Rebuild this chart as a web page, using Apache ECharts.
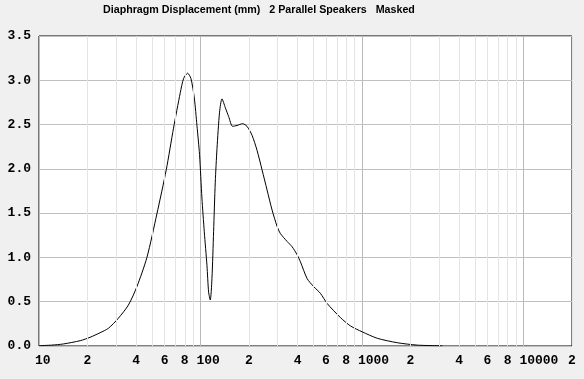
<!DOCTYPE html>
<html>
<head>
<meta charset="utf-8">
<script src="https://cdn.jsdelivr.net/npm/echarts@6/dist/echarts.min.js"></script>
<style>
html,body{margin:0;padding:0;background:#f0f0f0;}
#chart{width:584px;height:379px;}
</style>
</head>
<body>
<div id="chart"></div>
<script>
// Frequency (Hz) and diaphragm displacement (mm)
const freqs = [10, 12, 14.15, 18, 20.7, 23.9, 26.9, 31, 35.8, 40.4, 46.6, 53.7, 61.4, 68.1, 75, 78.6, 83.2, 87.3, 91.6, 95.1, 98.7, 102.1, 105.6, 109.7, 112.3, 115, 117.8, 120.6, 123.5, 126.6, 131.3, 135.9, 142.6, 149.5, 158.2, 168.4, 182.5, 194.2, 208.6, 224, 240.6, 258.6, 277.7, 298.3, 312.6, 344.2, 369.6, 396.8, 416, 458, 503, 553, 609, 737, 850, 1004, 1245, 1656, 2203, 3150];
const displacement = [0.004, 0.01, 0.023, 0.06, 0.098, 0.15, 0.20, 0.313, 0.463, 0.67, 1.00, 1.49, 1.99, 2.46, 2.86, 3.02, 3.08, 3.02, 2.80, 2.49, 2.16, 1.67, 1.29, 0.91, 0.61, 0.52, 0.76, 1.29, 1.85, 2.23, 2.64, 2.79, 2.69, 2.59, 2.48, 2.49, 2.51, 2.48, 2.38, 2.21, 1.99, 1.76, 1.535, 1.35, 1.27, 1.18, 1.12, 1.03, 0.95, 0.76, 0.67, 0.595, 0.48, 0.32, 0.226, 0.16, 0.087, 0.037, 0.01, 0.002];
const xTickValues = [10, 20, 40, 60, 80, 100, 200, 400, 600, 800, 1000, 2000, 4000, 6000, 8000, 10000, 20000];
const xTickLabels = ['10', '2', '4', '6', '8', '100', '2', '4', '6', '8', '1000', '2', '4', '6', '8', '10000', '2'];
const titleText = 'Diaphragm Displacement (mm)   2 Parallel Speakers   Masked';

const minorGrid = [];
[10, 100, 1000].forEach(d => { for (let k = 2; k <= 9; k++) minorGrid.push(d * k); });
minorGrid.push(20000);

const chart = echarts.init(document.getElementById('chart'));
const lblFont = {fontFamily: 'Liberation Mono', fontWeight: 'bold', fontSize: 13, color: '#000'};
chart.setOption({
  animation: false,
  backgroundColor: '#f0f0f0',
  title: {
    text: titleText, left: 103, top: 5, padding: 0,
    textStyle: {fontFamily: 'Liberation Sans', fontWeight: 'bold', fontSize: 10.7, color: '#000'}
  },
  grid: {left: 39, right: 12, top: 36, bottom: 33, show: true, backgroundColor: '#fff', borderColor: '#000', borderWidth: 1},
  xAxis: {
    type: 'log', logBase: 10, min: 10, max: 20000,
    axisLine: {show: false}, axisTick: {show: false},
    splitLine: {show: true, lineStyle: {color: '#b9b9b9', width: 1}},
    axisLabel: Object.assign({
      customValues: xTickValues,
      margin: 8,
      align: 'left',
      padding: [0, 0, 0, -4],
      formatter: function (v) {
        const i = xTickValues.findIndex(t => Math.abs(t - v) / t < 1e-6);
        return i >= 0 ? xTickLabels[i] : '';
      }
    }, lblFont)
  },
  yAxis: {
    type: 'value', min: 0, max: 3.5, interval: 0.5,
    axisLine: {show: false}, axisTick: {show: false},
    splitLine: {show: true, lineStyle: {color: '#c0c0c0', width: 1}},
    axisLabel: Object.assign({margin: 8, formatter: v => v.toFixed(1)}, lblFont)
  },
  series: [
    {
      type: 'line', z: 1, data: [], silent: true,
      markLine: {
        silent: true, symbol: ['none', 'none'], label: {show: false},
        lineStyle: {color: '#e4e4e4', type: 'solid', width: 1},
        data: minorGrid.map(v => ({xAxis: v}))
      }
    },
    {
      type: 'line', z: 3, symbol: 'none', smooth: 0.25,
      lineStyle: {color: '#000', width: 1},
      data: freqs.map((f, i) => [f, displacement[i]])
    }
  ]
});
</script>
</body>
</html>
